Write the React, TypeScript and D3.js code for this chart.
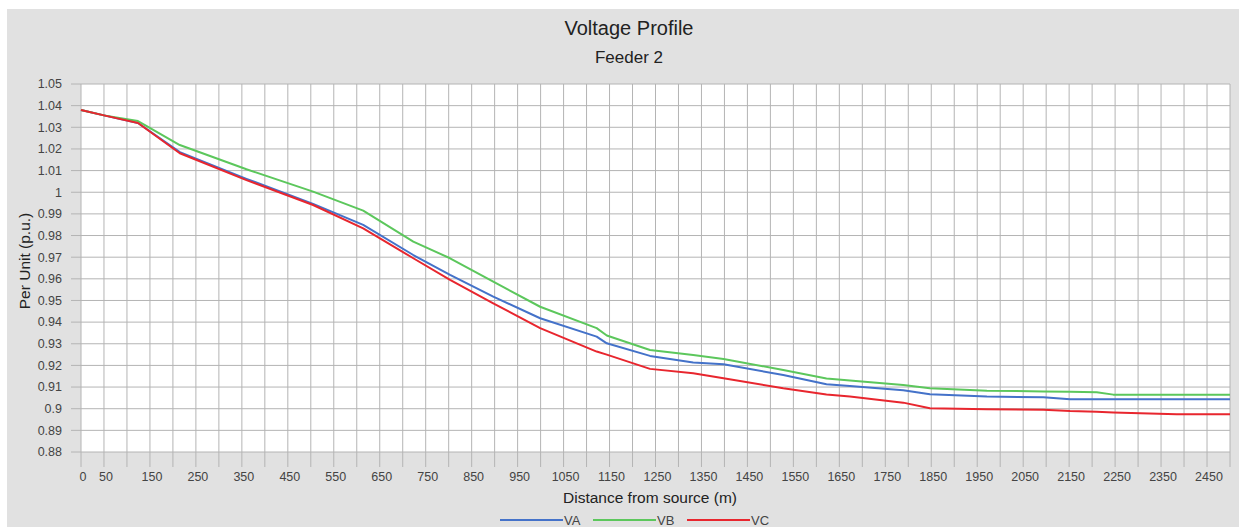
import React from "react";
import * as d3 from "d3";

const distances = [0, 50, 124, 215, 360, 505, 614, 723, 803, 897, 999, 1122, 1144, 1238, 1332, 1398, 1528, 1622, 1673, 1789, 1847, 1971, 2094, 2152, 2210, 2246, 2384, 2500];
const VA = [1.038, 1.0355, 1.032, 1.0185, 1.0062, 0.9946, 0.9849, 0.971, 0.9618, 0.9518, 0.9418, 0.9333, 0.9302, 0.9244, 0.9213, 0.9205, 0.9156, 0.9113, 0.9105, 0.9085, 0.9067, 0.9056, 0.9053, 0.9044, 0.9044, 0.9044, 0.9044, 0.9044];
const VB = [1.038, 1.0355, 1.0329, 1.0218, 1.0106, 1.0003, 0.9915, 0.9772, 0.9695, 0.9587, 0.9471, 0.9372, 0.9338, 0.9271, 0.9248, 0.923, 0.9179, 0.914, 0.913, 0.911, 0.9094, 0.9083, 0.908, 0.9078, 0.9076, 0.9065, 0.9065, 0.9065];
const VC = [1.038, 1.0355, 1.032, 1.018, 1.0056, 0.9941, 0.9833, 0.9695, 0.9595, 0.9487, 0.9372, 0.9264, 0.925, 0.9184, 0.9164, 0.9141, 0.9094, 0.9066, 0.9056, 0.9028, 0.9002, 0.8998, 0.8995, 0.8989, 0.8986, 0.8983, 0.8974, 0.8974];

const seriesNames = ["VA", "VB", "VC"];
const seriesValues = [VA, VB, VC];
const seriesColors = ["#4472c9", "#5cc75c", "#e8262e"];

const yTicks = [1.05, 1.04, 1.03, 1.02, 1.01, 1, 0.99, 0.98, 0.97, 0.96, 0.95, 0.94, 0.93, 0.92, 0.91, 0.9, 0.89, 0.88];
const xGrid = d3.range(0, 2501, 50);
const xLabels = [0, 50, ...d3.range(150, 2451, 100)];

const W = 1239, H = 527;
const left = 81, right = 1230, top = 84, bottom = 452;
const font = "'Liberation Sans', Arial, sans-serif";

export default function App() {
  const x = d3.scaleLinear().domain([0, 2500]).range([left, right]);
  const y = d3.scaleLinear().domain([0.88, 1.05]).range([bottom, top]);
  const line = d3.line<number>().x((_, i) => x(distances[i])).y((v) => y(v));
  const legendX = [500, 593, 687];

  return (
    <svg width={W} height={H} style={{ position: "absolute", left: 0, top: 0 }} fontFamily={font}>
      <rect x={0} y={0} width={W} height={H} fill="#ffffff" />
      <rect x={7} y={9} width={W - 7} height={H - 9} fill="#e1e1e1" />
      <text x={629} y={35} textAnchor="middle" fontSize={20} fill="#222">Voltage Profile</text>
      <text x={629} y={63} textAnchor="middle" fontSize={17} fill="#222">Feeder 2</text>
      <rect x={left} y={top} width={right - left} height={bottom - top} fill="#ffffff" />
      {xGrid.map((d) => (
        <line key={"gx" + d} x1={x(d)} x2={x(d)} y1={top} y2={bottom + 15} stroke="#b4b4b4" strokeWidth={1} />
      ))}
      {yTicks.map((t) => (
        <line key={"gy" + t} x1={left - 10} x2={right} y1={y(t)} y2={y(t)} stroke="#b4b4b4" strokeWidth={1} />
      ))}
      {yTicks.map((t) => (
        <text key={"yl" + t} x={62} y={y(t)} dy="0.35em" textAnchor="end" fontSize={12.5} fill="#444">{String(t)}</text>
      ))}
      {xLabels.map((d) => (
        <text key={"xl" + d} x={x(d) + 2} y={481} textAnchor="middle" fontSize={12.5} fill="#444">{String(d)}</text>
      ))}
      <text x={650} y={503} textAnchor="middle" fontSize={15.5} fill="#222">Distance from source (m)</text>
      <text transform={`translate(30,${(top + bottom) / 2 - 7}) rotate(-90)`} textAnchor="middle" fontSize={15.5} fill="#222">Per Unit (p.u.)</text>
      {seriesValues.map((vals, i) => (
        <path key={seriesNames[i]} d={line(vals) || ""} fill="none" stroke={seriesColors[i]} strokeWidth={2} strokeLinejoin="round" />
      ))}
      {seriesNames.map((n, i) => (
        <g key={"lg" + n}>
          <line x1={legendX[i]} x2={legendX[i] + 63} y1={520} y2={520} stroke={seriesColors[i]} strokeWidth={2} />
          <text x={legendX[i] + 64} y={524.5} fontSize={13} fill="#444">{n}</text>
        </g>
      ))}
    </svg>
  );
}
